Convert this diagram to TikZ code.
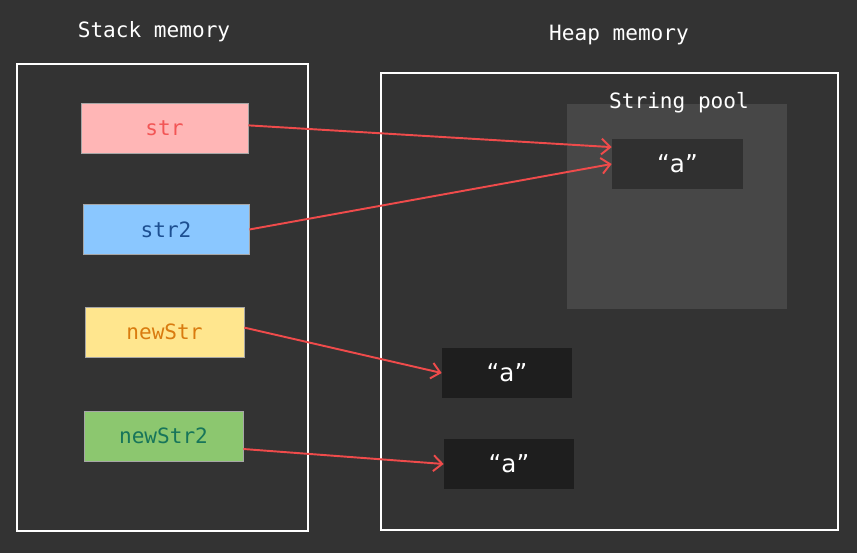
\documentclass[tikz,border=0pt]{standalone}
\usepackage{fontspec}
\setmainfont{DejaVu Sans}
\setmonofont{DejaVu Sans Mono}
\usetikzlibrary{arrows.meta}
\definecolor{bgcol}{HTML}{333333}
\definecolor{poolcol}{HTML}{474747}
\definecolor{pooladdr}{HTML}{303030}
\definecolor{heapaddr}{HTML}{1E1E1E}
\definecolor{refred}{HTML}{EF4B4B}
\definecolor{strfill}{HTML}{FFB6B6}
\definecolor{strtext}{HTML}{F25555}
\definecolor{strtwofill}{HTML}{8AC7FF}
\definecolor{strtwotext}{HTML}{1D4F91}
\definecolor{newfill}{HTML}{FFE68E}
\definecolor{newtext}{HTML}{D97B0F}
\definecolor{newtwofill}{HTML}{8CC76F}
\definecolor{newtwotext}{HTML}{17755A}
\begin{document}
\begin{tikzpicture}[x=0.02cm, y=-0.02cm,
    title/.style={text=white, font=\ttfamily\fontsize{12}{14}\selectfont},
    var/.style={minimum height=1cm, inner sep=0pt, draw=black!35, line width=0.4pt,
      font=\ttfamily\fontsize{12}{14}\selectfont},
    val/.style={minimum width=2.6cm, minimum height=1cm, inner sep=0pt, text=white,
      font=\fontsize{14}{16}\selectfont},
    ref/.style={draw=refred, line width=1.1pt, -{Straight Barb[length=5pt,width=9pt]}}]
  \fill[bgcol] (0,0) rectangle (857,553);
  \useasboundingbox (0,0) rectangle (857,553);
  % stack side
  \draw[white, line width=1.2pt] (17,64) rectangle (308,531);
  \node[title] (stacktitle) at (154,32) {Stack memory};
  \node[var, fill=strfill, text=strtext, minimum width=3.34cm] (str) at (164.5,128) {str};
  \node[var, fill=strtwofill, text=strtwotext, minimum width=3.32cm] (strtwo) at (166,229.5) {str2};
  \node[var, fill=newfill, text=newtext, minimum width=3.18cm] (newstr) at (164.5,332) {newStr};
  \node[var, fill=newtwofill, text=newtwotext, minimum width=3.18cm] (newstrtwo) at (163.5,436) {newStr2};
  % heap side
  \draw[white, line width=1.2pt] (381,73) rectangle (838,530);
  \node[title] (heaptitle) at (619,35) {Heap memory};
  \fill[poolcol] (567,104) rectangle (787,309);
  \node[title] (pooltitle) at (679,103) {String pool};
  \node[val, fill=pooladdr, minimum width=2.62cm] (poola) at (677.5,164) {“a”};
  \node[val, fill=heapaddr] (heapa) at (507,373) {“a”};
  \node[val, fill=heapaddr] (heapb) at (509,464) {“a”};
  % references
  \draw[ref] ([yshift=1.5pt]str.east) -- ([yshift=9.6pt]poola.west);
  \draw[ref] (strtwo.east) -- (poola.west);
  \draw[ref] ([yshift=2.5pt]newstr.east) -- (heapa.west);
  \draw[ref] ([yshift=-7.4pt]newstrtwo.east) -- (heapb.west);
\end{tikzpicture}
\end{document}
